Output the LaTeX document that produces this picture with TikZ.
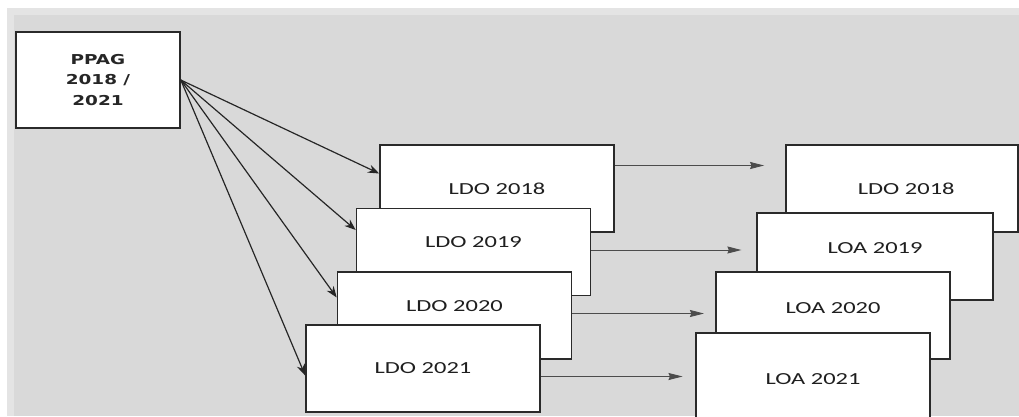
\documentclass[tikz,border=0pt]{standalone}
\usepackage{fontspec}
\usepackage{tikz}
\usetikzlibrary{positioning, arrows.meta}
\newfontfamily\boxfont[FakeStretch=1.45]{Carlito}
\newfontfamily\headfont[FakeStretch=1.35]{DejaVu Sans}
\definecolor{panel}{HTML}{D9D9D9}
\definecolor{panelrim}{HTML}{E4E4E4}
\definecolor{rim}{HTML}{2A2A2A}
\tikzset{
    plan/.style={draw=rim, fill=white, line width=1.1pt, minimum width=5.85cm, minimum height=2.175cm, inner sep=0pt},
    lbl/.style={font=\boxfont\fontsize{12}{14}\selectfont, text=black!88},
    link/.style={-{Stealth[length=8pt, width=6pt]}, draw=black!85, line width=0.85pt},
    pass/.style={-{Stealth[length=10pt, width=5pt, inset=1pt]}, draw=black!70, line width=0.6pt}
}
\begin{document}
\begin{tikzpicture}[x=0.025cm, y=-0.025cm]
    \useasboundingbox (0,0) rectangle (1019,416);
    \clip (0,0) rectangle (1019,416);
    \fill[panelrim] (7,8) rectangle (1019,416);
    \fill[panel] (14,15) rectangle (1019,416);

    % plan
    \node[plan, minimum width=4.1cm, minimum height=2.4cm, align=center,
          font=\headfont\bfseries\fontsize{9.7}{14.9}\selectfont, text=black!85] (ppag) at (98,80) {PPAG\\2018 /\\2021};

    % LDO
    \node[plan, label={[lbl]center:LDO 2018}] (ldoA) at (497,188.5) {};
    \node[plan, label={[lbl, yshift=7]center:LDO 2019}] (ldoB) at (473.5,252) {};
    \node[plan, label={[lbl, yshift=7]center:LDO 2020}] (ldoC) at (454.5,315.5) {};
    \node[plan, label={[lbl]center:LDO 2021}] (ldoD) at (423,368.5) {};

    % LOA
    \node[plan, minimum width=5.8cm, label={[lbl, xshift=3]center:LDO 2018}] (loaA) at (902,188.5) {};
    \node[plan, minimum width=5.9cm, label={[lbl, yshift=6]center:LOA 2019}] (loaB) at (875,256.5) {};
    \node[plan, label={[lbl, yshift=5]center:LOA 2020}] (loaC) at (833,315.5) {};
    \node[plan, label={[lbl, yshift=-2]center:LOA 2021}] (loaD) at (813,376.5) {};

    \draw[link] (ppag.east) -- ([shift={(0,-15)}]ldoA.west);
    \draw[link] (ppag.east) -- ([shift={(0,-22)}]ldoB.west);
    \draw[link] (ppag.east) -- ([shift={(0,-18)}]ldoC.west);
    \draw[link] (ppag.east) -- ([shift={(0,7)}]ldoD.west);

    \draw[pass, shorten >=15pt] ([shift={(0,-23)}]ldoA.east) -- ([shift={(0,-23)}]ldoA.east -| loaA.west);
    \draw[pass, shorten >=10.5pt] ([shift={(0,-2)}]ldoB.east) -- ([shift={(0,-2)}]ldoB.east -| loaB.west);
    \draw[pass, shorten >=8pt] ([shift={(0,-2)}]ldoC.east) -- ([shift={(0,-2)}]ldoC.east -| loaC.west);
    \draw[pass, shorten >=9pt] ([shift={(0,8)}]ldoD.east) -- ([shift={(0,8)}]ldoD.east -| loaD.west);
\end{tikzpicture}
\end{document}
